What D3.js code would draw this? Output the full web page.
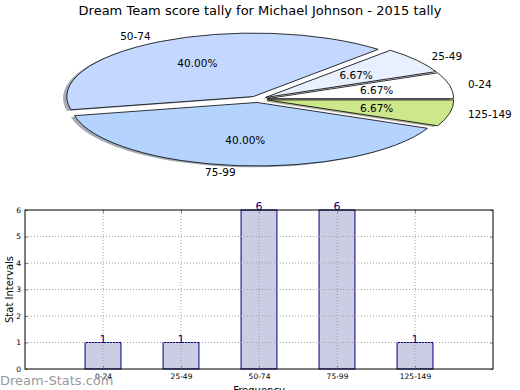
<!DOCTYPE html>
<html>
<head>
<meta charset="utf-8">
<script src="https://cdn.jsdelivr.net/npm/d3@7"></script>
<style>
  body { margin: 0; background: #fff; }
  text { font-family: "DejaVu Sans", sans-serif; }
</style>
</head>
<body>
<div id="chart"></div>
<script>
const title = "Dream Team score tally for Michael Johnson - 2015 tally";
const categories = ["0-24", "25-49", "50-74", "75-99", "125-149"];
const counts = [1, 1, 6, 6, 1];
const sliceColors = ["#ffffff", "#e8f0ff", "#c4d8ff", "#b4d4ff", "#cce88a"];
const yTicks = [0, 1, 2, 3, 4, 5, 6];

const width = 520, height = 390;
const svg = d3.select("#chart").append("svg")
    .attr("width", width)
    .attr("height", height);

svg.append("text")
    .attr("x", 260).attr("y", 15)
    .attr("text-anchor", "middle")
    .style("font-size", "13px")
    .text(title);

// ---- pie (matplotlib style, squashed into an ellipse) ----
const cx = 258, cy = 99.3, rx = 186.6, ry = 63.5, explode = 0.05;
const total = d3.sum(counts);

// start at 3 o'clock and go counter-clockwise
const pie = d3.pie().sort(null)
    .startAngle(Math.PI / 2)
    .endAngle(Math.PI / 2 - 2 * Math.PI);
const slices = pie(counts);
const unitArc = d3.arc().innerRadius(0).outerRadius(1);

function dir(d) {
    const m = (d.startAngle + d.endAngle) / 2;
    return [Math.sin(m), -Math.cos(m)];
}

const pieG = svg.append("g");

// shadows under all wedges
pieG.selectAll("path.shadow")
    .data(slices)
    .join("path")
    .attr("class", "shadow")
    .attr("d", unitArc)
    .attr("transform", d => {
        const [ux, uy] = dir(d);
        return `translate(${cx + ux * explode * rx - 0.02 * rx},${cy + uy * explode * ry + 0.02 * ry}) scale(${rx},${ry})`;
    })
    .attr("fill", (d, i) => d3.rgb(sliceColors[i]).darker(2.5))
    .attr("fill-opacity", 0.5);

pieG.selectAll("path.wedge")
    .data(slices)
    .join("path")
    .attr("class", "wedge")
    .attr("d", unitArc)
    .attr("transform", d => {
        const [ux, uy] = dir(d);
        return `translate(${cx + ux * explode * rx},${cy + uy * explode * ry}) scale(${rx},${ry})`;
    })
    .attr("fill", (d, i) => sliceColors[i])
    .attr("stroke", "#000")
    .attr("stroke-width", 0.8)
    .attr("vector-effect", "non-scaling-stroke");

pieG.selectAll("text.lbl")
    .data(slices)
    .join("text")
    .attr("class", "lbl")
    .attr("x", d => cx + dir(d)[0] * (1.1 + explode) * rx)
    .attr("y", d => cy + dir(d)[1] * (1.1 + explode) * ry)
    .attr("dy", "0.35em")
    .attr("text-anchor", d => dir(d)[0] > 0 ? "start" : "end")
    .style("font-size", "10.5px")
    .text((d, i) => categories[i]);

pieG.selectAll("text.pct")
    .data(slices)
    .join("text")
    .attr("class", "pct")
    .attr("x", d => cx + dir(d)[0] * (0.6 + explode) * rx)
    .attr("y", d => cy + dir(d)[1] * (0.6 + explode) * ry)
    .attr("dy", "0.35em")
    .attr("text-anchor", "middle")
    .style("font-size", "10.5px")
    .text(d => d3.format(".2f")(d.value / total * 100) + "%");

// ---- bar chart ----
const axLeft = 25, axRight = 493, axTop = 210, axBottom = 369;
const x = d3.scaleLinear().domain([0, categories.length + 1]).range([axLeft, axRight]);
const y = d3.scaleLinear().domain([0, d3.max(yTicks)]).range([axBottom, axTop]);
const barW = x(0.46) - x(0);

const barG = svg.append("g");

barG.append("g")
    .selectAll("rect")
    .data(counts)
    .join("rect")
    .attr("x", (d, i) => x(i + 1) - barW / 2)
    .attr("width", barW)
    .attr("y", d => y(d))
    .attr("height", d => y(0) - y(d))
    .attr("fill", "#ccccE5")
    .attr("stroke", "#000080")
    .attr("stroke-width", 1);

// dotted grid, drawn over the bars like matplotlib does
const grid = barG.append("g")
    .attr("stroke", "#a0a0a0")
    .attr("stroke-dasharray", "1,2");
grid.selectAll("line.gx")
    .data(categories)
    .join("line")
    .attr("class", "gx")
    .attr("x1", (d, i) => x(i + 1)).attr("x2", (d, i) => x(i + 1))
    .attr("y1", axTop).attr("y2", axBottom);
grid.selectAll("line.gy")
    .data(yTicks.slice(1, -1))
    .join("line")
    .attr("class", "gy")
    .attr("x1", axLeft).attr("x2", axRight)
    .attr("y1", d => y(d)).attr("y2", d => y(d));

// value labels
barG.append("g")
    .selectAll("text")
    .data(counts)
    .join("text")
    .attr("x", (d, i) => x(i + 1))
    .attr("y", d => y(d))
    .attr("text-anchor", "middle")
    .attr("fill", "#000080")
    .style("font-size", "11px")
    .text(d => d);

// axes
const yAxis = d3.axisLeft(y).tickValues(yTicks).tickSize(-3).tickPadding(4)
    .tickFormat(d3.format("d"));
const gy = barG.append("g").attr("transform", `translate(${axLeft},0)`).call(yAxis);
gy.selectAll("text").style("font-size", "7.5px").attr("fill", "#000");

const yAxisR = d3.axisRight(y).tickValues(yTicks).tickSize(-3).tickFormat("");
barG.append("g").attr("transform", `translate(${axRight},0)`).call(yAxisR);

const xAxis = d3.axisBottom(x).tickValues(d3.range(1, categories.length + 1))
    .tickSize(-3).tickPadding(5)
    .tickFormat(d => categories[d - 1]);
const gx = barG.append("g").attr("transform", `translate(0,${axBottom})`).call(xAxis);
gx.selectAll("text").style("font-size", "7.5px").attr("fill", "#000");

const xAxisT = d3.axisTop(x).tickValues(d3.range(1, categories.length + 1))
    .tickSize(-3).tickFormat("");
barG.append("g").attr("transform", `translate(0,${axTop})`).call(xAxisT);

barG.selectAll(".domain").remove();
barG.selectAll(".tick line").attr("stroke", "#888");

barG.append("rect")
    .attr("x", axLeft).attr("y", axTop)
    .attr("width", axRight - axLeft).attr("height", axBottom - axTop)
    .attr("fill", "none")
    .attr("stroke", "#000")
    .attr("stroke-width", 1);

svg.append("text")
    .attr("transform", `translate(13,${(axTop + axBottom) / 2}) rotate(-90)`)
    .attr("text-anchor", "middle")
    .style("font-size", "10px")
    .text("Stat Intervals");

svg.append("text")
    .attr("x", (axLeft + axRight) / 2).attr("y", 394)
    .attr("text-anchor", "middle")
    .style("font-size", "10px")
    .text("Frequency");

svg.append("text")
    .attr("x", 0).attr("y", 385)
    .attr("fill", "#999")
    .style("font-size", "13px")
    .text("Dream-Stats.com");
</script>
</body>
</html>
